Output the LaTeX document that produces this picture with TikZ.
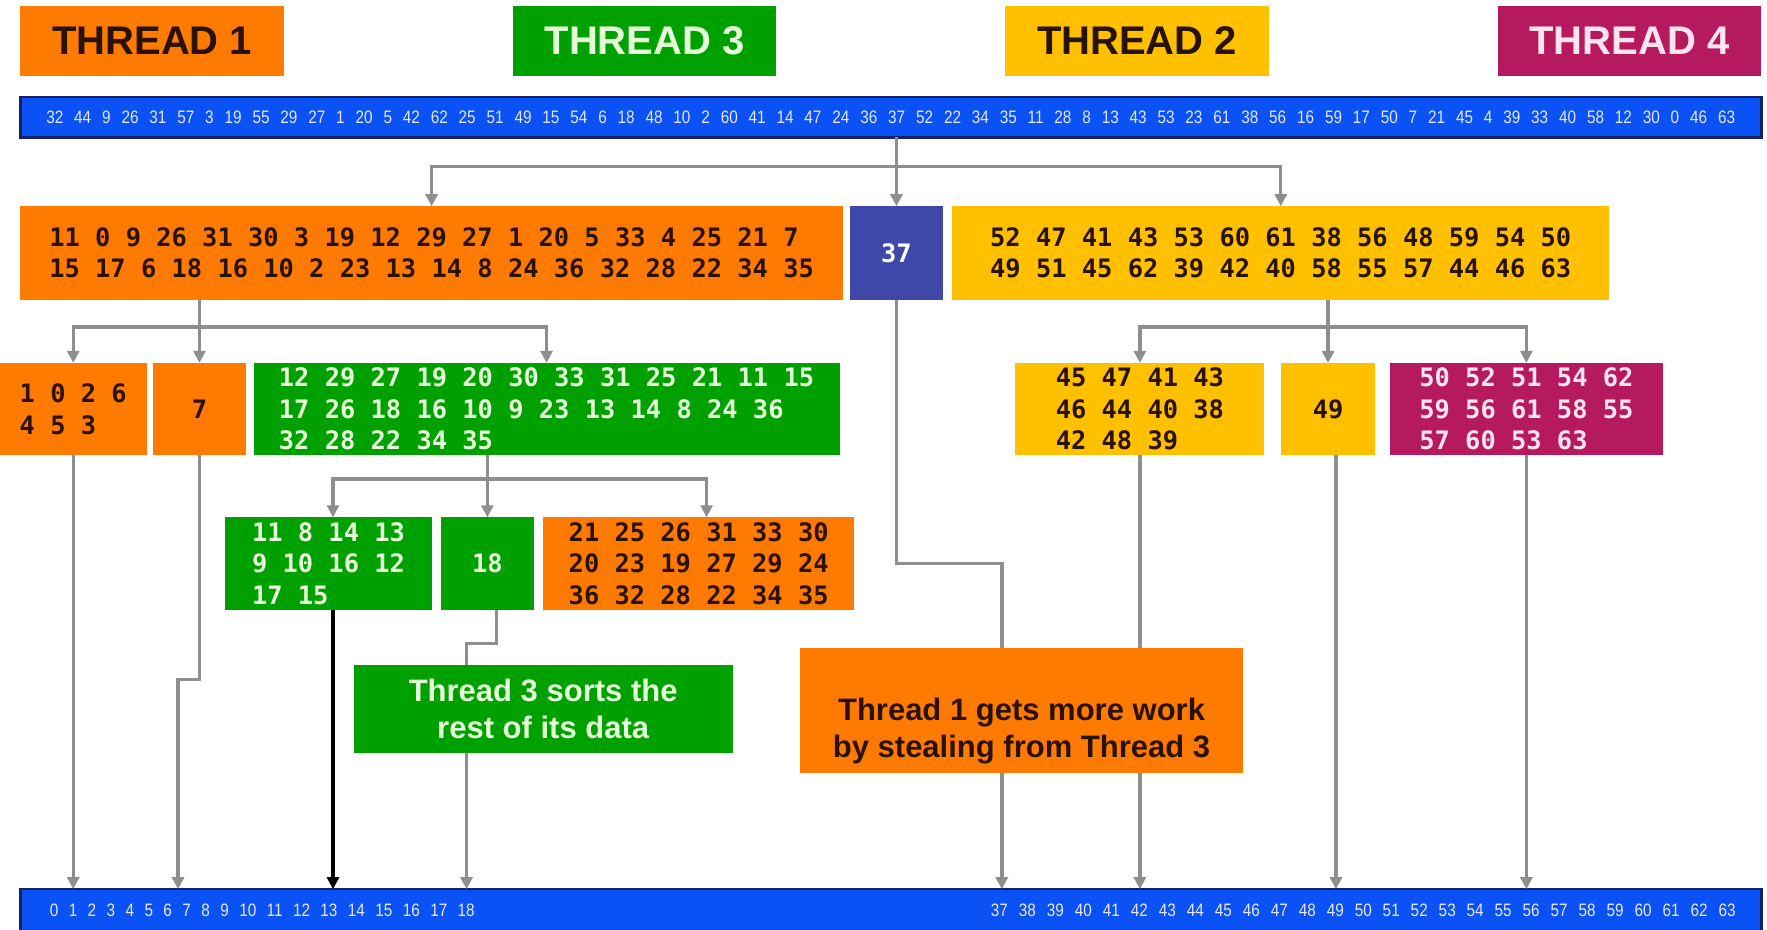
\documentclass[tikz,border=0pt]{standalone}
\usepackage{fontspec}
\usepackage{graphicx}
\setmainfont{Liberation Sans}
\newfontfamily\numfont{DejaVu Sans Mono}
\newfontfamily\barfont[FakeStretch=0.85]{Liberation Sans}
\usetikzlibrary{calc,arrows.meta}
\definecolor{corange}{HTML}{FF7A00}
\definecolor{cgreen}{HTML}{00A000}
\definecolor{cyellow}{HTML}{FFC000}
\definecolor{cmagenta}{HTML}{B5195E}
\definecolor{cpurple}{HTML}{3F48A8}
\definecolor{cgray}{HTML}{8E8E8E}
\definecolor{cblue}{HTML}{0A52F5}
\definecolor{cnavy}{HTML}{15206B}
\definecolor{tdark}{HTML}{2A1200}
\definecolor{tlight}{HTML}{E4FFD8}
\definecolor{tpink}{HTML}{FFE4F0}
\definecolor{tbar}{HTML}{E6E8F4}
\tikzset{
  place/.style n args={4}{minimum width={(#3-#1)*1.12691pt}, minimum height={(#4-#2)*1.12691pt}, at={({(#1+#3)/2},{(#2+#4)/2})}},
  nbox/.style={inner sep=0pt, outer sep=0pt, anchor=center},
  numbox/.style={nbox, font=\numfont\bfseries\fontsize{25.4}{31.5}\selectfont, align=left},
  tlabel/.style={nbox, font=\bfseries\fontsize{40}{40}\selectfont},
  barbox/.style={nbox, fill=cblue, draw=cnavy, line width=2.5pt, text=tbar, font=\barfont\fontsize{18}{18}\selectfont},
  callout/.style={nbox, font=\bfseries\fontsize{31}{37}\selectfont, align=center},
  cline/.style={draw=cgray, line width=3.4pt},
  cconn/.style={cline, -{Triangle[length=12pt,width=12pt]}},
  twotip/.style={cline, {Triangle[length=12pt,width=12pt]}-{Triangle[length=12pt,width=12pt]}},
  bconn/.style={cconn, draw=black},
}
\begin{document}
\begin{tikzpicture}[x=1.12691pt, y=-1.12691pt]
\useasboundingbox (0,0) rectangle (1568,825);
\fill[white] (0,0) rectangle (1568,825);

% thread labels
\node[tlabel, fill=corange, text=tdark, place={18}{5}{252}{67}] (t1) {THREAD 1};
\node[tlabel, fill=cgreen, text=tlight, place={455}{5}{689}{67}] (t3) {THREAD 3};
\node[tlabel, fill=cyellow, text=tdark, place={892}{5}{1126}{67}] (t2) {THREAD 2};
\node[tlabel, fill=cmagenta, text=tpink, place={1329}{5}{1563}{67}] (t4) {THREAD 4};

% top bar
\node[barbox, place={18}{86}{1563}{122}] (top) {\hbox to 1689pt{\spaceskip=0pt plus 1fil\relax 32 44 9 26 31 57 3 19 55 29 27 1 20 5 42 62 25 51 49 15 54 6 18 48 10 2 60 41 14 47 24 36 37 52 22 34 35 11 28 8 13 43 53 23 61 38 56 16 59 17 50 7 21 45 4 39 33 40 58 12 30 0 46 63}};

% level 1
\node[numbox, fill=corange, text=tdark, place={18}{183}{748}{266}] (a) {11 0 9 26 31 30 3 19 12 29 27 1 20 5 33 4 25 21 7\\15 17 6 18 16 10 2 23 13 14 8 24 36 32 28 22 34 35};
\node[numbox, fill=cpurple, text=white, place={754}{183}{837}{266}] (p) {37};
\node[numbox, fill=cyellow, text=tdark, place={845}{183}{1428}{266}] (b) {52 47 41 43 53 60 61 38 56 48 59 54 50\\49 51 45 62 39 42 40 58 55 57 44 46 63};

% level 2
\node[numbox, fill=corange, text=tdark, place={0}{322}{130}{404}] (c1) {1 0 2 6\\4 5 3};
\node[numbox, fill=corange, text=tdark, place={136}{322}{218}{404}] (c2) {7};
\node[numbox, fill=cgreen, text=tlight, place={225}{322}{745}{404}] (c3) {12 29 27 19 20 30 33 31 25 21 11 15\\17 26 18 16 10 9 23 13 14 8 24 36\\32 28 22 34 35};
\node[numbox, fill=cyellow, text=tdark, place={901}{322}{1122}{404}] (d1) {45 47 41 43\\46 44 40 38\\42 48 39};
\node[numbox, fill=cyellow, text=tdark, place={1137}{322}{1220}{404}] (d2) {49};
\node[numbox, fill=cmagenta, text=tpink, place={1233}{322}{1476}{404}] (d3) {50 52 51 54 62\\59 56 61 58 55\\57 60 53 63};

% level 3
\node[numbox, fill=cgreen, text=tlight, place={200}{459}{383}{541}] (e1) {11 8 14 13\\9 10 16 12\\17 15};
\node[numbox, fill=cgreen, text=tlight, place={391}{459}{474}{541}] (e2) {18};
\node[numbox, fill=corange, text=tdark, place={482}{459}{758}{541}] (e3) {21 25 26 31 33 30\\20 23 19 27 29 24\\36 32 28 22 34 35};

% bottom bar
\node[barbox, place={18}{789}{1563}{827}] (bot) {\hbox to 1690pt{\hspace*{4pt}\hbox to 425pt{\spaceskip=0pt plus 1fil\relax 0 1 2 3 4 5 6 7 8 9 10 11 12 13 14 15 16 17 18}\hfill\hbox to 745pt{\spaceskip=0pt plus 1fil\relax 37 38 39 40 41 42 43 44 45 46 47 48 49 50 51 52 53 54 55 56 57 58 59 60 61 62 63}}};

% connectors: splits
\draw[cconn] (top.south -| p.north) -- (p.north);
\draw[twotip] (a.north) -- ++(0,-35) -| (b.north);
\draw[cconn] (a.south -| c2.north) -- (c2.north);
\draw[twotip] (c1.north) -- ++(0,-32) -| (c3.north);
\draw[cconn] (b.south -| d2.north) -- (d2.north);
\draw[twotip] (d1.north) -- ++(0,-32) -| (d3.north);
\draw[cconn] (c3.south -| e2.north) -- (e2.north);
\draw[twotip] ($(e1.north)+(4,0)$) -- ++(0,-34) -| ($(e3.north)+(7,0)$);

% connectors: to sorted output
\draw[cconn] (c1.south) -- (c1.south |- bot.north);
\draw[cconn] (c2.south) -- ++(0,199) -| ($(bot.north west)+(140,0)$);
\draw[bconn] ($(e1.south)+(4,0)$) -- ($(e1.south |- bot.north)+(4,0)$);
\draw[cconn] ($(e2.south)+(8,0)$) -- ++(0,30) -| ($(bot.north west)+(396,0)$);
\draw[cconn] (p.south) -- ++(0,234) -| ($(bot.north west)+(871,0)$);
\draw[cconn] (d1.south) -- (d1.south |- bot.north);
\draw[cconn] ($(d2.south)+(7,0)$) -- ($(d2.south |- bot.north)+(7,0)$);
\draw[cconn] (d3.south) -- (d3.south |- bot.north);

% callouts
\node[callout, fill=cgreen, text=tlight, place={314}{590}{650}{668}] (n1) {Thread 3 sorts the\\rest of its data};
\node[callout, fill=corange, text=tdark, place={710}{575}{1103}{686}] (n2) {\raisebox{-27pt}[0pt][0pt]{\begin{tabular}{@{}c@{}}Thread 1 gets more work\\by stealing from Thread 3\end{tabular}}};
\end{tikzpicture}
\end{document}
